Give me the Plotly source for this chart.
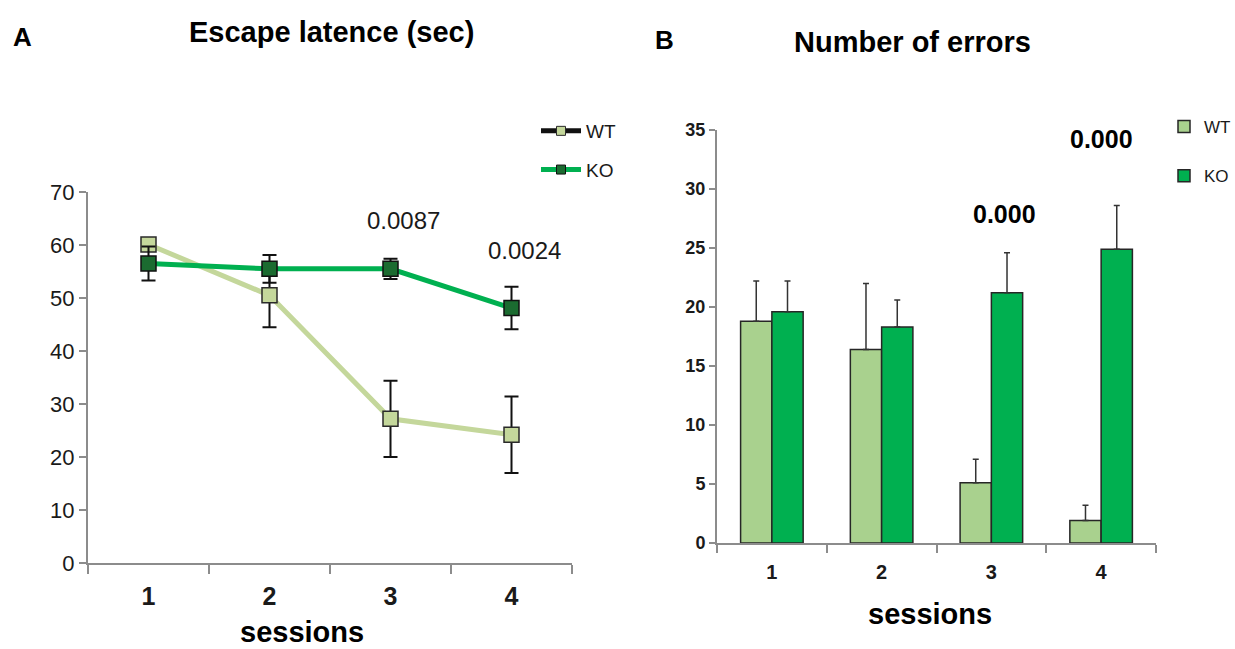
import plotly.graph_objects as go

# ---------------- data ----------------
sessions = ["1", "2", "3", "4"]

# Panel A: escape latency (sec)
lat_wt = [60.1, 50.5, 27.2, 24.2]
lat_wt_err = [1.0, 6.0, 7.2, 7.2]
lat_ko = [56.5, 55.5, 55.5, 48.1]
lat_ko_err = [3.2, 2.6, 1.9, 4.0]
lat_pvals = ["", "", "0.0087", "0.0024"]
lat_pval_y = [0, 0, 64.7, 59.0]

# Panel B: number of errors
err_wt = [18.8, 16.4, 5.1, 1.9]
err_wt_sd = [3.4, 5.6, 2.0, 1.3]
err_ko = [19.6, 18.3, 21.2, 24.9]
err_ko_sd = [2.6, 2.3, 3.4, 3.7]
err_pvals = ["", "", "0.000", "0.000"]
err_pval_y = [0, 0, 27.9, 34.2]

W, H = 1235, 649
def px(x): return x / W
def py(y): return 1 - y / H

FONT = "Liberation Sans, Arial, sans-serif"
TXT = "#1a1a1a"
AX = "#8c8c8c"

C_WT_LINE = "#c4d79b"
C_WT_MARK = "#c4d79b"
C_KO_LINE = "#00b050"
C_KO_MARK = "#1b6b30"
C_WT_BAR = "#a9d18e"
C_KO_BAR = "#00b050"

def nf(size, bold=False, color=TXT):
    return dict(family=FONT, size=size, color=color, weight="bold" if bold else "normal")

fig = go.Figure()

# ---------- Panel A ----------
fig.add_trace(go.Scatter(
    x=sessions, y=lat_wt, mode="lines+markers", name="WT", showlegend=False,
    line=dict(color=C_WT_LINE, width=5),
    marker=dict(symbol="square", size=15, color=C_WT_MARK, line=dict(color="#2a2a2a", width=1.5)),
    error_y=dict(type="data", array=lat_wt_err, color="#111", thickness=2, width=7),
    xaxis="x", yaxis="y"))
fig.add_trace(go.Scatter(
    x=sessions, y=lat_ko, mode="lines+markers", name="KO", showlegend=False,
    line=dict(color=C_KO_LINE, width=5),
    marker=dict(symbol="square", size=15, color=C_KO_MARK, line=dict(color="#111", width=1.5)),
    error_y=dict(type="data", array=lat_ko_err, color="#111", thickness=2, width=7),
    xaxis="x", yaxis="y"))
# legend entries (Excel-style legend keys)
fig.add_trace(go.Scatter(
    x=[None], y=[None], mode="lines+markers", name="WT", legend="legend", legendgroup="a",
    line=dict(color="#111", width=5),
    marker=dict(symbol="square", size=9, color=C_WT_MARK, line=dict(color="#2a2a2a", width=1)),
    xaxis="x", yaxis="y"))
fig.add_trace(go.Scatter(
    x=[None], y=[None], mode="lines+markers", name="KO", legend="legend", legendgroup="b",
    line=dict(color=C_KO_LINE, width=5),
    marker=dict(symbol="square", size=9, color=C_KO_MARK, line=dict(color="#111", width=1)),
    xaxis="x", yaxis="y"))

# ---------- Panel B ----------
fig.add_trace(go.Bar(
    x=sessions, y=err_wt, name="WT", legend="legend2", legendgroup="c",
    marker=dict(color=C_WT_BAR, line=dict(color="#262626", width=1.5)),
    error_y=dict(type="data", symmetric=False, array=err_wt_sd, arrayminus=[0] * 4,
                 color="#333", thickness=1.5, width=3),
    xaxis="x2", yaxis="y2"))
fig.add_trace(go.Bar(
    x=sessions, y=err_ko, name="KO", legend="legend2", legendgroup="d",
    marker=dict(color=C_KO_BAR, line=dict(color="#262626", width=1.5)),
    error_y=dict(type="data", symmetric=False, array=err_ko_sd, arrayminus=[0] * 4,
                 color="#333", thickness=1.5, width=3),
    xaxis="x2", yaxis="y2"))

axis_common = dict(showline=True, linecolor=AX, linewidth=2, ticks="outside",
                   tickcolor=AX, tickwidth=1.5, showgrid=False, zeroline=False,
                   automargin=False)

fig.update_layout(
    width=W, height=H, margin=dict(l=0, r=0, t=0, b=0, autoexpand=False),
    paper_bgcolor="white", plot_bgcolor="white",
    barmode="group", bargap=0.43, bargroupgap=0,
    xaxis=dict(axis_common, domain=[px(88), px(572)], anchor="y", type="category",
               range=[-0.5, 3.5], tickson="boundaries", ticklen=9,
               tickfont=nf(25, True), ticklabelstandoff=10),
    yaxis=dict(axis_common, domain=[py(563), py(192)], anchor="x", range=[0, 70],
               dtick=10, ticklen=7, tickfont=nf(22)),
    xaxis2=dict(axis_common, domain=[px(717), px(1156)], anchor="y2", type="category",
                range=[-0.5, 3.5], tickson="boundaries", ticklen=8,
                tickfont=nf(20, True), ticklabelstandoff=10),
    yaxis2=dict(axis_common, domain=[py(543), py(130)], anchor="x2", range=[0, 35],
                dtick=5, ticklen=6, tickfont=nf(18, True)),
    legend=dict(x=px(536), y=py(112), xanchor="left", yanchor="top",
                bgcolor="rgba(0,0,0,0)", tracegroupgap=11, itemwidth=40,
                font=nf(19)),
    legend2=dict(x=px(1164), y=py(109), xanchor="left", yanchor="top",
                 bgcolor="rgba(0,0,0,0)", tracegroupgap=24, itemwidth=30,
                 font=nf(17)),
)

def pa(text, x, y, size, bold=True):
    return dict(text=text, x=px(x), y=py(y), xref="paper", yref="paper",
                xanchor="center", yanchor="middle", showarrow=False,
                font=nf(size, bold, "#000"))

ann = [
    pa("A", 22, 37, 26),
    pa("Escape latence (sec)", 331, 32, 29),
    pa("B", 664, 40, 26),
    pa("Number of errors", 912, 42, 29),
    pa("sessions", 302, 632, 29),
    pa("sessions", 930, 614, 29),
]
for i, (t, yv) in enumerate(zip(lat_pvals, lat_pval_y)):
    if t:
        ann.append(dict(text=t, x=i, y=yv, xref="x", yref="y", xshift=13,
                        xanchor="center", yanchor="middle", showarrow=False,
                        font=nf(24)))
for i, (t, yv) in enumerate(zip(err_pvals, err_pval_y)):
    if t:
        ann.append(dict(text=t, x=i, y=yv, xref="x2", yref="y2",
                        xshift=13 if i == 2 else 0, xanchor="center", yanchor="middle",
                        showarrow=False, font=nf(25, True, "#000")))
fig.update_layout(annotations=ann)

fig.write_html("out.html", config={"displayModeBar": False},
               post_script="document.body.style.margin='0';document.documentElement.style.overflow='hidden';")
